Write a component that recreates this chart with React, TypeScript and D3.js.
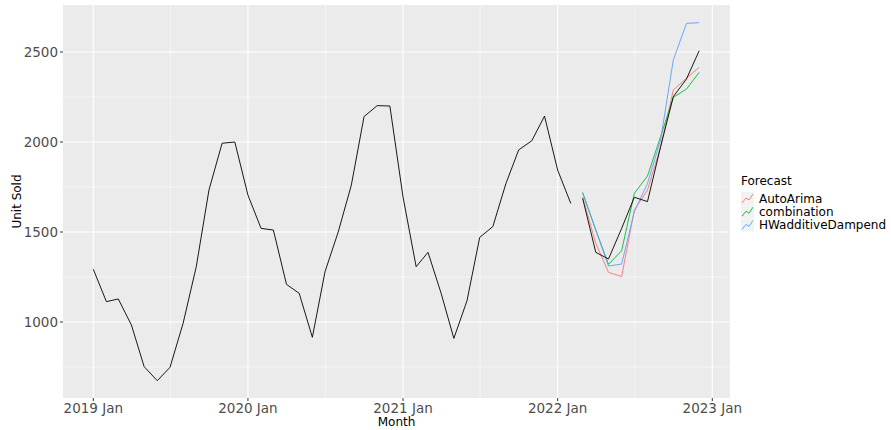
import React from "react";
import * as d3 from "d3";

const histMonths = [
  "2019-01","2019-02","2019-03","2019-04","2019-05","2019-06","2019-07","2019-08","2019-09","2019-10","2019-11","2019-12",
  "2020-01","2020-02","2020-03","2020-04","2020-05","2020-06","2020-07","2020-08","2020-09","2020-10","2020-11","2020-12",
  "2021-01","2021-02","2021-03","2021-04","2021-05","2021-06","2021-07","2021-08","2021-09","2021-10","2021-11","2021-12",
  "2022-01","2022-02",
];
const histValues = [
  1293, 1113, 1128, 983, 752, 674, 748, 993, 1307, 1733, 1993, 2000,
  1705, 1520, 1511, 1209, 1159, 915, 1280, 1500, 1760, 2141, 2202, 2200,
  1695, 1307, 1387, 1159, 909, 1118, 1470, 1530, 1770, 1956, 2007, 2144,
  1844, 1659,
];
const testMonths = ["2022-03","2022-04","2022-05","2022-06","2022-07","2022-08","2022-09","2022-10","2022-11","2022-12"];
const actualTest = [1687, 1387, 1350, 1520, 1693, 1669, 1974, 2252, 2350, 2507];
const autoArima = [1693, 1437, 1276, 1252, 1622, 1733, 1974, 2289, 2354, 2415];
const combination = [1720, 1511, 1320, 1396, 1715, 1811, 2030, 2248, 2294, 2387];
const hwDamped = [1715, 1511, 1311, 1322, 1613, 1770, 2011, 2456, 2659, 2663];

const seriesNames = ["AutoArima", "combination", "HWadditiveDampend"];
const seriesColors = ["#F8766D", "#00BA38", "#619CFF"];
const yTicks = [1000, 1500, 2000, 2500];
const yMinor = [750, 1250, 1750, 2250];
const xTickLabels = ["2019 Jan", "2020 Jan", "2021 Jan", "2022 Jan", "2023 Jan"];

const parse = d3.timeParse("%Y-%m");

export default function App() {
  const W = 891, H = 430;
  const pL = 63, pR = 730, pT = 5, pB = 398;
  const x = d3.scaleTime()
    .domain([new Date(2019, 0, 1), new Date(2023, 0, 1)])
    .range([93.3, 712.3]);
  const y = d3.scaleLinear().domain([1000, 2500]).range([322, 52]);
  const line = d3.line<[Date, number]>().x(d => x(d[0])).y(d => y(d[1]));

  const hist = histMonths.map((m, i) => [parse(m)!, histValues[i]] as [Date, number]);
  const test = testMonths.map((m, i) => [parse(m)!, actualTest[i]] as [Date, number]);
  const fc = [autoArima, combination, hwDamped].map(arr =>
    testMonths.map((m, i) => [parse(m)!, arr[i]] as [Date, number])
  );

  const xMajor = xTickLabels.map((_, i) => new Date(2019 + i, 0, 1));
  const xMinor = [0, 1, 2, 3].map(i => new Date(2019 + i, 6, 2));
  const font = "DejaVu Sans, sans-serif";

  return (
    <svg width={W} height={H} style={{ position: "absolute", left: 0, top: 0 }}>
      <rect x={0} y={0} width={W} height={H} fill="#fff" />
      <rect x={pL} y={pT} width={pR - pL} height={pB - pT} fill="#EBEBEB" />
      {yMinor.map(v => (
        <line key={"ym" + v} x1={pL} x2={pR} y1={y(v)} y2={y(v)} stroke="#fff" strokeWidth={0.5} />
      ))}
      {xMinor.map((d, i) => (
        <line key={"xm" + i} x1={x(d)} x2={x(d)} y1={pT} y2={pB} stroke="#fff" strokeWidth={0.5} />
      ))}
      {yTicks.map(v => (
        <line key={"yg" + v} x1={pL} x2={pR} y1={y(v)} y2={y(v)} stroke="#fff" strokeWidth={1.1} />
      ))}
      {xMajor.map((d, i) => (
        <line key={"xg" + i} x1={x(d)} x2={x(d)} y1={pT} y2={pB} stroke="#fff" strokeWidth={1.1} />
      ))}
      <path d={line(hist)!} fill="none" stroke="#000" strokeWidth={0.9} />
      {fc.map((s, i) => (
        <path key={"fc" + i} d={line(s)!} fill="none" stroke={seriesColors[i]} strokeWidth={0.9} />
      ))}
      <path d={line(test)!} fill="none" stroke="#000" strokeWidth={0.9} />
      {yTicks.map(v => (
        <g key={"yt" + v}>
          <line x1={pL - 3} x2={pL} y1={y(v)} y2={y(v)} stroke="#333" strokeWidth={1} />
          <text x={pL - 5} y={y(v)} dy="0.35em" textAnchor="end" fontFamily={font} fontSize={13.5} fill="#4D4D4D">{v}</text>
        </g>
      ))}
      {xMajor.map((d, i) => (
        <g key={"xt" + i}>
          <line x1={x(d)} x2={x(d)} y1={pB} y2={pB + 3} stroke="#333" strokeWidth={1} />
          <text x={x(d)} y={pB + 15} textAnchor="middle" fontFamily={font} fontSize={13.5} fill="#4D4D4D">{xTickLabels[i]}</text>
        </g>
      ))}
      <text x={(pL + pR) / 2} y={426} textAnchor="middle" fontFamily={font} fontSize={12} fill="#000">Month</text>
      <text transform={`translate(21,${(pT + pB) / 2}) rotate(-90)`} textAnchor="middle" fontFamily={font} fontSize={12} fill="#000">Unit Sold</text>
      <text x={741} y={185} fontFamily={font} fontSize={12} fill="#000">Forecast</text>
      {seriesNames.map((n, i) => {
        const ky = 192 + i * 13.2;
        return (
          <g key={"lg" + i}>
            <rect x={741} y={ky} width={13} height={13} fill="#F2F2F2" />
            <polyline points={`${742},${ky + 11} ${746},${ky + 6} ${749},${ky + 8} ${753},${ky + 2}`} fill="none" stroke={seriesColors[i]} strokeWidth={0.9} />
            <text x={759} y={ky + 10.5} fontFamily={font} fontSize={12} fill="#000">{n}</text>
          </g>
        );
      })}
    </svg>
  );
}
